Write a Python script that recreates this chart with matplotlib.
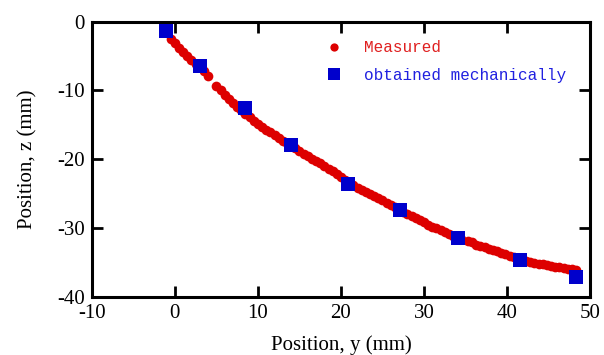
import matplotlib
matplotlib.use("Agg")
import matplotlib.pyplot as plt

plt.rcParams["axes.unicode_minus"] = False

# Measured (red dots)
meas_y = [-1.3, -0.5, 0.0, 0.5, 1.0, 1.5, 2.0, 2.5, 3.0, 3.5, 4.0,
          5.0, 5.5, 6.0, 6.5, 7.0, 7.5, 8.0, 8.5, 9.0, 9.5, 10.0, 10.5, 11.0, 11.5,
          12.0, 12.5, 13.0, 13.5, 14.0, 14.5, 15.0, 15.5, 16.0, 16.5, 17.0, 17.5,
          18.0, 18.5, 19.0, 19.5, 20.0, 20.5, 21.0, 21.5, 22.0, 22.5, 23.0, 23.5,
          24.0, 24.5, 25.0, 25.5, 26.0, 26.5, 27.0, 27.5, 28.0, 28.5, 29.0, 29.5,
          30.0, 30.5, 31.0, 31.5, 32.0, 32.5, 33.0, 33.5, 34.0, 34.5,
          35.3, 35.8, 36.3, 36.8, 37.3, 37.8, 38.3, 38.8, 39.3, 39.8, 40.3, 40.8,
          41.3, 41.8, 42.3, 42.8, 43.3, 43.8, 44.3, 44.8, 45.3, 45.8, 46.3, 46.8,
          47.3, 47.8, 48.3]
meas_z = [-1.4, -2.5, -3.1, -3.8, -4.4, -5.0, -5.6, -6.1, -6.5, -7.2, -7.9,
          -9.3, -10.0, -10.6, -11.2, -11.8, -12.4, -12.9, -13.4, -13.9, -14.4, -14.9, -15.3, -15.7, -16.1,
          -16.5, -16.9, -17.3, -17.6, -18.0, -18.4, -18.8, -19.2, -19.6, -19.9, -20.3, -20.6,
          -21.0, -21.4, -21.7, -22.1, -22.6, -23.0, -23.4, -23.8, -24.2, -24.5, -24.8, -25.1,
          -25.4, -25.7, -26.0, -26.4, -26.7, -27.0, -27.3, -27.7, -28.0, -28.3, -28.6, -28.9,
          -29.2, -29.5, -29.8, -30.0, -30.3, -30.6, -30.9, -31.1, -31.4, -31.6,
          -31.9, -32.1, -32.4, -32.6, -32.8, -33.0, -33.2, -33.4, -33.6, -33.8, -34.0, -34.2,
          -34.4, -34.6, -34.8, -34.9, -35.1, -35.2, -35.3, -35.4, -35.5, -35.6, -35.7, -35.8,
          -35.9, -36.0, -36.1]

# Obtained mechanically (blue squares)
mech_y = [-1.1, 3.0, 8.4, 14.0, 20.8, 27.1, 34.1, 41.5, 48.3]
mech_z = [-1.3, -6.5, -12.6, -17.9, -23.6, -27.4, -31.4, -34.7, -37.1]

x_ticks = [-10, 0, 10, 20, 30, 40, 50]
y_ticks = [0, -10, -20, -30, -40]

RED = "#DD0000"
BLUE = "#0000CC"

fig = plt.figure(figsize=(6.04, 3.55), dpi=100)
ax = fig.add_axes([0.152, 0.164, 0.825, 0.775])

ax.plot(meas_y, meas_z, linestyle="none", marker="o", markersize=7,
        color=RED, markeredgewidth=0, label="Measured", zorder=2)
ax.plot(mech_y, mech_z, linestyle="none", marker="s", markersize=9.5,
        color=BLUE, markeredgewidth=0, label="obtained mechanically", zorder=3)

ax.set_xlim(-10, 50)
ax.set_ylim(-40, 0)
ax.set_xticks(x_ticks)
ax.set_yticks(y_ticks)

serif = ["Liberation Serif", "DejaVu Serif"]
ax.tick_params(direction="in", length=8, width=2, top=True, right=True,
               labelsize=15, pad=5)
for lbl in ax.get_xticklabels() + ax.get_yticklabels():
    lbl.set_fontfamily(serif)
    lbl.set_fontsize(15)
for sp in ax.spines.values():
    sp.set_linewidth(2.2)

ax.set_xlabel("Position, y (mm)", family=serif, fontsize=15, labelpad=9)
ax.set_ylabel("Position, z (mm)", family=serif, fontsize=15, labelpad=14)

leg = ax.legend(loc="upper left", bbox_to_anchor=(0.425, 0.985), frameon=False,
                prop={"family": ["Liberation Mono", "DejaVu Sans Mono"], "size": 11.5},
                handletextpad=0.9, labelspacing=0.8, markerscale=0.85,
                labelcolor=["#E02020", "#2020E0"])

fig.savefig("out.png", dpi=100)
